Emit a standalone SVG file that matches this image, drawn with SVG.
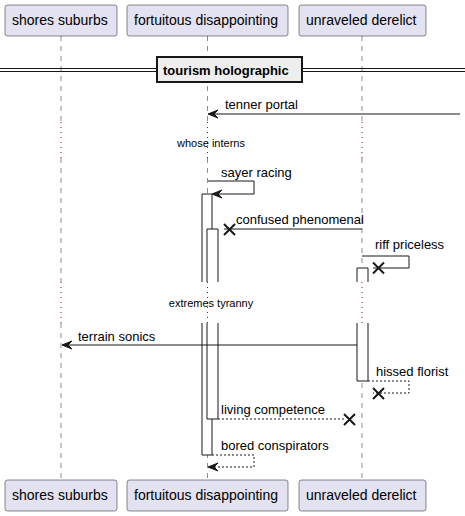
<svg xmlns="http://www.w3.org/2000/svg" width="465" height="516" viewBox="0 0 465 516">
<style>
.p rect{fill:#E2E2F0;stroke:#181818;stroke-width:0.5}
.p text{font-family:"Liberation Sans",Arial,sans-serif;font-size:14px;fill:#000}
.ll{stroke:#181818;stroke-width:0.5;stroke-dasharray:5,5;fill:none}
.dl{stroke:#A80036;stroke-width:1;stroke-dasharray:1,4;fill:none}
.act{fill:#FFFFFF;stroke:none}
.ae{stroke:#181818;stroke-width:1;fill:none}
.m{stroke:#181818;stroke-width:1;fill:none}
.md{stroke:#181818;stroke-width:1;fill:none;stroke-dasharray:2,2}
.x{stroke:#181818;stroke-width:2;fill:none}
.ah{fill:#181818;stroke:#181818;stroke-width:1}
.lbl{font-family:"Liberation Sans",Arial,sans-serif;font-size:13px;fill:#000}
.dt{font-family:"Liberation Sans",Arial,sans-serif;font-size:11px;fill:#000}
</style>
<g id="lifelines">
<path class="ll" d="M61,36V122M207.5,36V122M362,36V122"/>
<path class="dl" d="M61,122V158M207.5,122V158M362,122V158"/>
<path class="ll" d="M61,158V282M207.5,158V282M362,158V282"/>
<path class="dl" d="M61,282V323M207.5,282V323M362,282V323"/>
<path class="ll" d="M61,323V480M207.5,323V480M362,323V480"/>
</g>
<g id="activations">
<rect class="act" x="202" y="194" width="10" height="88"/>
<path class="ae" d="M202,282V194H212V282"/>
<rect class="act" x="202" y="323" width="10" height="132"/>
<path class="ae" d="M202,323V455H212V323"/>
<rect class="act" x="207" y="229" width="11" height="53"/>
<path class="ae" d="M207,282V229H218V282"/>
<rect class="act" x="207" y="323" width="11" height="96"/>
<path class="ae" d="M207,323V419H218V323"/>
<rect class="act" x="357" y="268" width="11" height="14"/>
<path class="ae" d="M357,282V268H368V282"/>
<rect class="act" x="357" y="323" width="11" height="58"/>
<path class="ae" d="M357,323V381H368V323"/>
<path class="dl" d="M207.5,282V323"/>
</g>
<g id="divider">
<path d="M0,68.5H465M0,71.5H465" stroke="#181818" stroke-width="1"/>
<rect x="157" y="57" width="145" height="25" fill="#EEEEEE" stroke="#181818" stroke-width="2"/>
<text x="163" y="75" font-family="Liberation Sans,Arial,sans-serif" font-size="13" font-weight="bold">tourism holographic</text>
</g>
<g id="connectors">
<path class="m" d="M460,114H209"/>
<polygon class="ah" points="218,110 208,114 218,118 214,114"/>
<text class="lbl" x="225" y="109">tenner portal</text>
<text class="dt" x="211" y="147" text-anchor="middle">whose interns</text>
<path class="m" d="M208,181H254V194H213"/>
<polygon class="ah" points="222,190 212,194 222,198 218,194"/>
<text class="lbl" x="221" y="177">sayer racing</text>
<path class="m" d="M362,229H224"/>
<path class="x" d="M224,224L235,235M224,235L235,224"/>
<text class="lbl" x="236" y="224">confused phenomenal</text>
<path class="m" d="M362,256H409V268H373"/>
<path class="x" d="M373,262.5L384,273.5M373,273.5L384,262.5"/>
<text class="lbl" x="375" y="249">riff priceless</text>
<text class="dt" x="211" y="307" text-anchor="middle">extremes tyranny</text>
<path class="m" d="M357,345H63"/>
<polygon class="ah" points="72,341 62,345 72,349 68,345"/>
<text class="lbl" x="78" y="341">terrain sonics</text>
<path class="md" d="M368,381H409V393H373"/>
<path class="x" d="M373,388L384,399M373,399L384,388"/>
<text class="lbl" x="376" y="376">hissed florist</text>
<path class="md" d="M218,419H344"/>
<path class="x" d="M344,414L355,425M344,425L355,414"/>
<text class="lbl" x="221" y="414">living competence</text>
<path class="md" d="M212,455H254V467H209"/>
<polygon class="ah" points="218,463 208,467 218,471 214,467"/>
<text class="lbl" x="221" y="450">bored conspirators</text>
</g>
<g id="p1" class="p">
<rect x="5" y="5" width="112" height="31" rx="2.5"/>
<text x="12" y="25">shores suburbs</text>
<rect x="5" y="480" width="112" height="31" rx="2.5"/>
<text x="12" y="500">shores suburbs</text>
</g>
<g id="p2" class="p">
<rect x="127" y="5" width="161" height="31" rx="2.5"/>
<text x="134" y="25">fortuitous disappointing</text>
<rect x="127" y="480" width="161" height="31" rx="2.5"/>
<text x="134" y="500">fortuitous disappointing</text>
</g>
<g id="p3" class="p">
<rect x="299" y="5" width="127" height="31" rx="2.5"/>
<text x="306" y="25">unraveled derelict</text>
<rect x="299" y="480" width="127" height="31" rx="2.5"/>
<text x="306" y="500">unraveled derelict</text>
</g>
</svg>
